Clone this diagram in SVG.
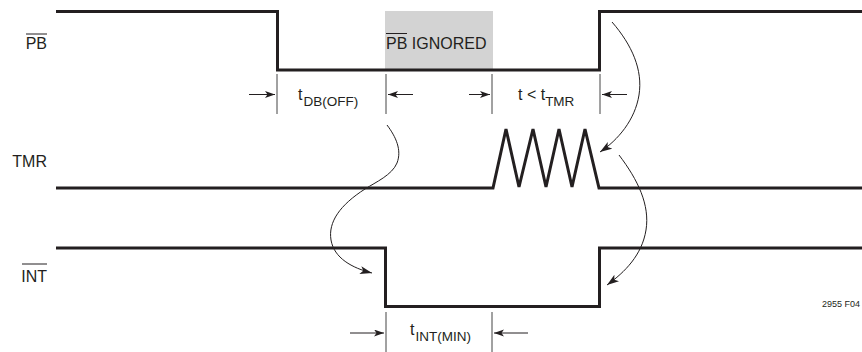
<svg xmlns="http://www.w3.org/2000/svg" width="862" height="352" viewBox="0 0 862 352">
<defs>
<marker id="ah" markerUnits="userSpaceOnUse" markerWidth="14" markerHeight="10" refX="12" refY="4" orient="auto">
<path d="M0,0 L12,4 L0,8 L3,4 z" fill="#231f20"/>
</marker>
<marker id="dh" markerUnits="userSpaceOnUse" markerWidth="12" markerHeight="8" refX="10" refY="3.5" orient="auto">
<path d="M0,0 L10,3.5 L0,7 L2.5,3.5 z" fill="#231f20"/>
</marker>
</defs>
<style>
.wave{fill:none;stroke:#231f20;stroke-width:3;stroke-linejoin:miter}
.lbl{font-family:"Liberation Sans",Arial,sans-serif;font-size:16px;fill:#231f20}
.sub{font-size:13.5px}
.small{font-family:"Liberation Sans",Arial,sans-serif;font-size:9px;fill:#231f20}
.tick{stroke:#444;stroke-width:1}
.dim{stroke:#231f20;stroke-width:1;marker-end:url(#dh)}
.ovl{stroke:#231f20;stroke-width:1}
.curve{fill:none;stroke:#231f20;stroke-width:1;marker-end:url(#ah)}
</style>
<rect width="862" height="352" fill="#fff"/>
<g id="ignored-window">
<rect x="385" y="11" width="108" height="59" fill="#d3d3d3"/>
<text class="lbl" x="386" y="49">PB IGNORED</text>
<line class="ovl" x1="386" y1="33.5" x2="407" y2="33.5"/>
</g>
<g id="PB">
<path class="wave" d="M56,11.5 H277.5 V70 H599.5 V11.5 H862"/>
<text class="lbl" x="47" y="49" text-anchor="end">PB</text>
<line class="ovl" x1="26" y1="34" x2="47" y2="34"/>
</g>
<g id="TMR">
<path class="wave" d="M56,188 H493 L506,129 L519,187 L533,129 L546,187 L559,129 L572,187 L585,129 L599,188 H862"/>
<text class="lbl" x="47" y="167" text-anchor="end">TMR</text>
</g>
<g id="INT">
<path class="wave" d="M56,248 H385.5 V306.5 H599.5 V248 H862"/>
<text class="lbl" x="47" y="282" text-anchor="end">INT</text>
<line class="ovl" x1="22" y1="264" x2="47" y2="264"/>
</g>
<g id="dimensions">
<line class="tick" x1="277" y1="74" x2="277" y2="114"/>
<line class="tick" x1="386" y1="74" x2="386" y2="114"/>
<line class="tick" x1="492" y1="74" x2="492" y2="114"/>
<line class="tick" x1="600" y1="74" x2="600" y2="114"/>
<line class="dim" x1="249" y1="94.5" x2="275" y2="94.5"/>
<line class="dim" x1="413" y1="94.5" x2="388" y2="94.5"/>
<line class="dim" x1="469" y1="94.5" x2="490" y2="94.5"/>
<line class="dim" x1="627" y1="94.5" x2="602" y2="94.5"/>
<text class="lbl" x="298" y="100">t<tspan class="sub" dx="1" dy="6">DB(OFF)</tspan></text>
<text class="lbl" x="518" y="100">t &lt; t<tspan class="sub" dy="6">TMR</tspan></text>
<line class="tick" x1="386" y1="312" x2="386" y2="352"/>
<line class="tick" x1="492" y1="312" x2="492" y2="352"/>
<line class="dim" x1="350" y1="333" x2="384" y2="333"/>
<line class="dim" x1="528" y1="333" x2="494" y2="333"/>
<text class="lbl" x="410" y="335">t<tspan class="sub" dx="1" dy="6">INT(MIN)</tspan></text>
</g>
<g id="connectors">
<path class="curve" d="M387,125 C396,137 402,150 397,163 C392,175 376,182 365,189 C340,205 328,222 331,240 C334,258 352,268 372,273"/>
<path class="curve" d="M612,22 C632,45 643,70 639,95 C635,120 618,140 600,152"/>
<path class="curve" d="M619,155 C638,180 650,205 646,230 C642,255 625,272 607,285"/>
</g>
<text class="small" x="860" y="307" text-anchor="end">2955 F04</text>
</svg>
